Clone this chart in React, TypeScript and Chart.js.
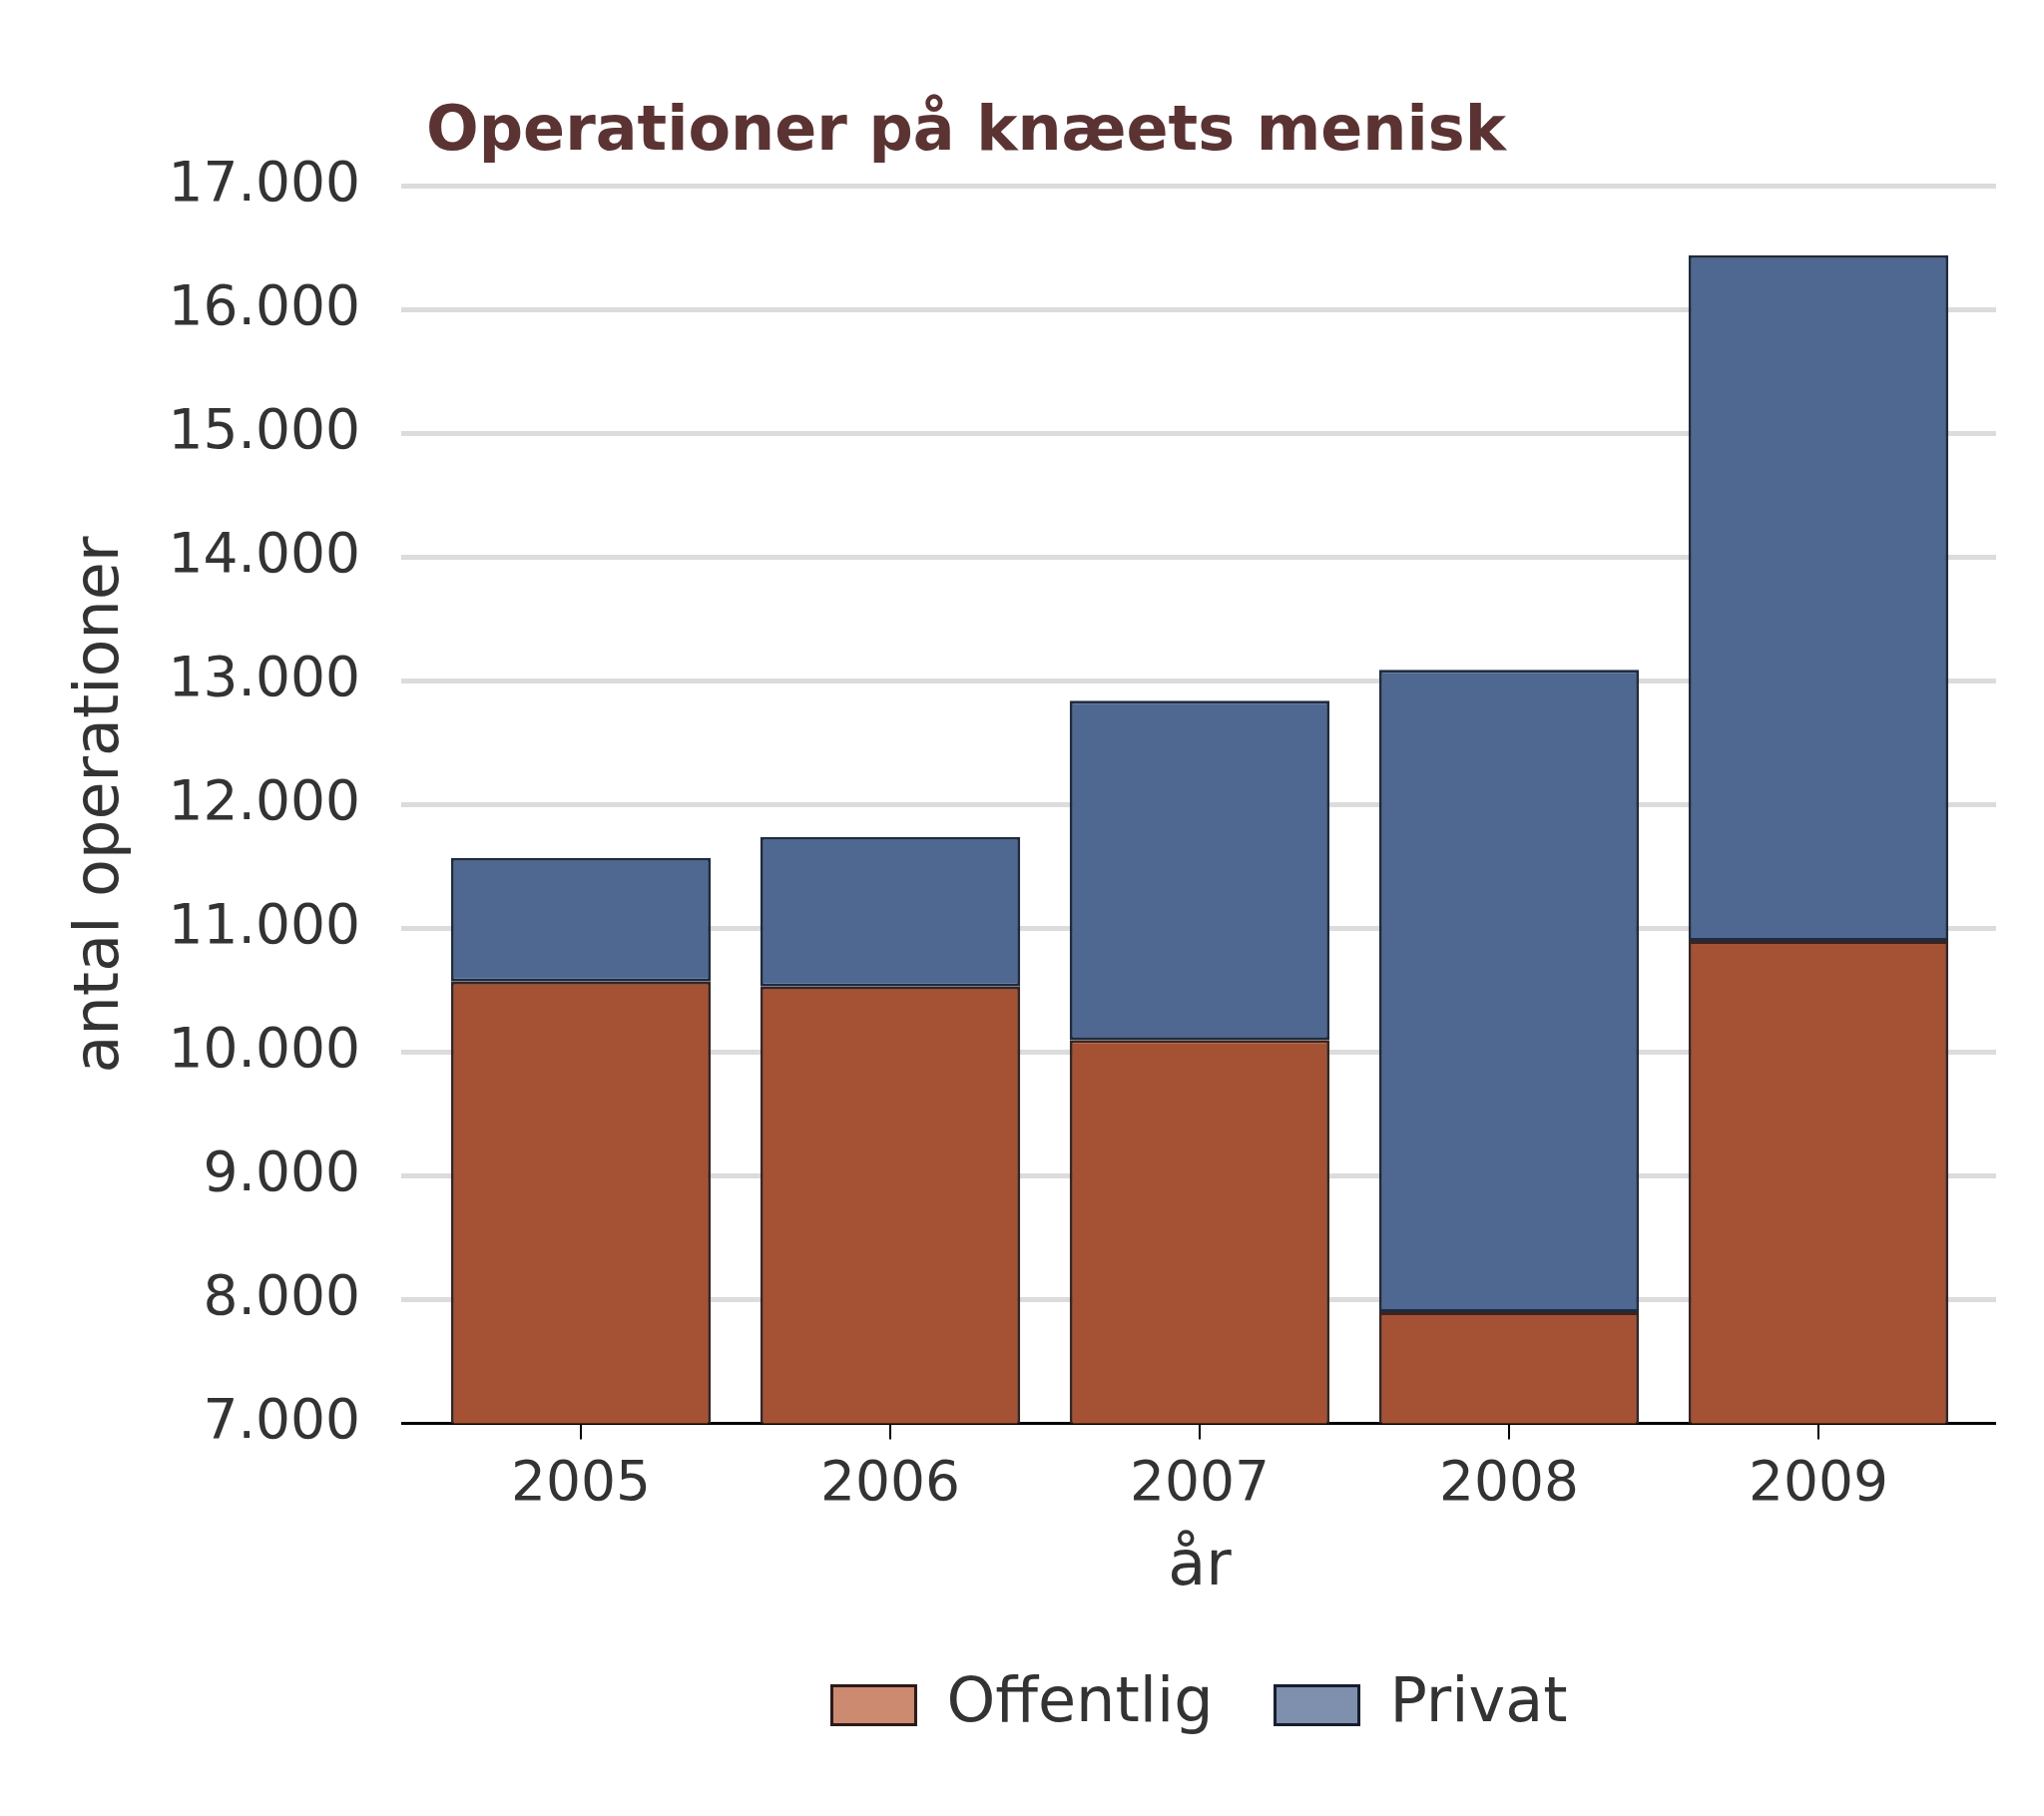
import { useEffect, useRef } from 'react';
import { Chart, registerables } from 'chart.js';

Chart.register(...registerables);

// data
const years = ['2005', '2006', '2007', '2008', '2009'];
const offentlig = [10570, 10530, 10100, 7900, 10900];
const privat = [1000, 1210, 2740, 5190, 5540];
const seriesNames = ['Offentlig', 'Privat'];
const yMin = 7000;
const yMax = 17000;
const yStep = 1000;

const FONT = '"DejaVu Sans", Verdana, sans-serif';
const TEXT = '#333333';
const GRID = '#dcdcdc';

// 17000 -> "17.000"
const fmt = (v: number) => String(v).replace(/\B(?=(\d{3})+(?!\d))/g, '.');

export default function App() {
    const canvasRef = useRef<HTMLCanvasElement | null>(null);

    useEffect(() => {
        if (!canvasRef.current) return;
        Chart.defaults.font.family = FONT;

        const gridColor = (c: any) => (c.tick && c.tick.value === yMin ? '#000000' : GRID);
        const gridWidth = (c: any) => (c.tick && c.tick.value === yMin ? 3 : 5);

        const chart = new Chart(canvasRef.current, {
            type: 'bar',
            data: {
                labels: years,
                datasets: [
                    {
                        label: seriesNames[0],
                        data: offentlig,
                        backgroundColor: '#a55234',
                        borderColor: '#3b2420',
                        borderWidth: 3,
                        borderSkipped: false,
                        clip: { left: 5, right: 5, top: 5, bottom: 0 },
                    },
                    {
                        label: seriesNames[1],
                        data: privat,
                        backgroundColor: '#4f6891',
                        borderColor: '#1e2b40',
                        borderWidth: 3,
                        borderSkipped: false,
                        clip: { left: 5, right: 5, top: 5, bottom: 0 },
                    },
                ],
            },
            options: {
                responsive: false,
                animation: false,
                datasets: { bar: { categoryPercentage: 1, barPercentage: 0.84 } },
                layout: { padding: { top: 97, left: 0, right: 48, bottom: 70 } },
                plugins: {
                    title: {
                        display: true,
                        text: 'Operationer på knæets menisk',
                        align: 'start',
                        fullSize: false,
                        color: '#5b3333',
                        font: { size: 62, weight: 'bold', family: FONT },
                        padding: { top: 0, bottom: 15 },
                    },
                    legend: {
                        position: 'bottom',
                        fullSize: false,
                        labels: {
                            boxWidth: 84,
                            boxHeight: 39,
                            padding: 62,
                            color: TEXT,
                            font: { size: 62, family: FONT },
                            generateLabels: (ch: any) => {
                                const items = Chart.defaults.plugins.legend.labels.generateLabels(ch);
                                const fills = ['#cc8a70', '#7e90ad'];
                                const strokes = ['#2a1a18', '#161d2c'];
                                items.forEach((it: any, i: number) => {
                                    it.fillStyle = fills[i];
                                    it.strokeStyle = strokes[i];
                                    it.lineWidth = 3;
                                });
                                return items;
                            },
                        },
                    },
                    tooltip: { enabled: false },
                },
                scales: {
                    x: {
                        stacked: true,
                        border: { display: false },
                        grid: {
                            offset: false,
                            drawOnChartArea: false,
                            drawTicks: true,
                            tickLength: 16,
                            color: '#000000',
                            lineWidth: 2,
                        },
                        ticks: { color: TEXT, font: { size: 55, family: FONT }, padding: 13 },
                        title: {
                            display: true,
                            text: 'år',
                            color: TEXT,
                            font: { size: 62, family: FONT },
                            padding: { top: 0, bottom: 7 },
                        },
                    },
                    y: {
                        stacked: true,
                        min: yMin,
                        max: yMax,
                        border: { display: false },
                        grid: { color: gridColor, lineWidth: gridWidth, drawTicks: true, tickLength: 25 },
                        ticks: {
                            stepSize: yStep,
                            color: TEXT,
                            font: { size: 55, family: FONT },
                            padding: 41,
                            callback: (v: any) => fmt(Number(v)),
                        },
                        title: {
                            display: true,
                            text: 'antal operationer',
                            color: TEXT,
                            font: { size: 62, family: FONT },
                            padding: { top: 65, bottom: 0 },
                        },
                        afterFit: (s: any) => {
                            s.width = 427;
                        },
                    },
                    y2: {
                        position: 'right',
                        min: yMin,
                        max: yMax,
                        border: { display: false },
                        grid: {
                            color: gridColor,
                            lineWidth: gridWidth,
                            drawOnChartArea: false,
                            drawTicks: true,
                            tickLength: 23,
                        },
                        ticks: { display: false, stepSize: yStep },
                        afterFit: (s: any) => {
                            s.width = 23;
                        },
                    },
                },
            },
        } as any);

        return () => chart.destroy();
    }, []);

    return (
        <div style={{ position: 'absolute', left: 0, top: 0, width: 2048, height: 1820, background: '#ffffff' }}>
            <canvas ref={canvasRef} width={2048} height={1820} style={{ width: 2048, height: 1820 }} />
        </div>
    );
}
